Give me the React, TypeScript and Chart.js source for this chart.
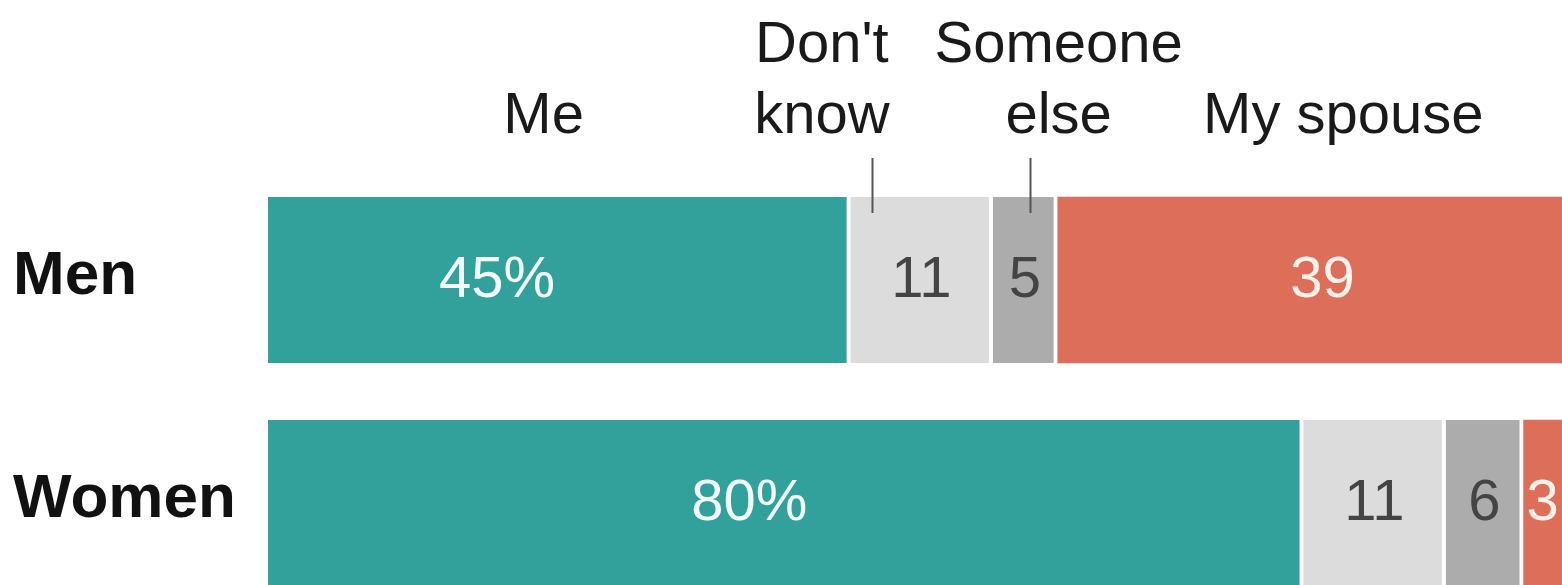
import React, { useEffect, useRef } from "react";
import { Chart, registerables } from "chart.js";

Chart.register(...registerables);

const categories = ["Men", "Women"];
const seriesNames = ["Me", "Don't know", "Someone else", "My spouse"];
const headerLines = [["Me"], ["Don't", "know"], ["Someone", "else"], ["My spouse"]];
const meValues = [45, 80];
const dontKnowValues = [11, 11];
const someoneElseValues = [5, 6];
const spouseValues = [39, 3];
const seriesColors = ["#33a19b", "#dcdcdc", "#acacac", "#dd6e59"];
const labelColors = ["#f4fcfb", "#444444", "#444444", "#fdf1ea"];
// label anchor positions (in percentage units)
const menLabelPos = [17.7, 50.5, 58.5, 81.5];
const womenLabelPos = [37.2, 85.5, 94, 98.5];
// header anchor positions (percentage units) and leader ticks
const headerPos = [21.3, 42.8, 61.1, 83.1];
const leaderTickPos = [46.7, 58.9];

const FONT = "'Liberation Sans', Arial, Helvetica, sans-serif";

export default function App() {
  const ref = useRef<HTMLCanvasElement | null>(null);

  useEffect(() => {
    document.body.style.margin = "0";
    document.body.style.overflow = "hidden";
    const canvas = ref.current;
    if (!canvas) return;
    const seriesValues = [meValues, dontKnowValues, someoneElseValues, spouseValues];
    const labelPos = [menLabelPos, womenLabelPos];

    const overlay = {
      id: "overlay",
      afterDatasetsDraw(chart: any) {
        const ctx = chart.ctx;
        const xs = chart.scales.x;
        ctx.save();
        // value labels
        ctx.font = `58px ${FONT}`;
        ctx.textAlign = "center";
        ctx.textBaseline = "alphabetic";
        seriesValues.forEach((vals, i) => {
          const meta = chart.getDatasetMeta(i);
          vals.forEach((v, j) => {
            const bar = meta.data[j] as any;
            const x = xs.getPixelForValue(labelPos[j][i]);
            ctx.fillStyle = labelColors[i];
            ctx.fillText(i === 0 ? `${v}%` : `${v}`, x, bar.y + 17);
          });
        });
        // category labels
        ctx.font = `bold 62px ${FONT}`;
        ctx.textAlign = "left";
        ctx.fillStyle = "#111111";
        const meta0 = chart.getDatasetMeta(0);
        categories.forEach((c, j) => {
          const bar = meta0.data[j] as any;
          ctx.fillText(c, 13, bar.y + 14);
        });
        // headers
        ctx.font = `58px ${FONT}`;
        ctx.textAlign = "center";
        ctx.fillStyle = "#1a1a1a";
        headerLines.forEach((lines, i) => {
          const x = xs.getPixelForValue(headerPos[i]);
          const lastBaseline = 133;
          lines.forEach((ln, k) => {
            const y = lastBaseline - (lines.length - 1 - k) * 71;
            ctx.fillText(ln, x, y);
          });
        });
        // leader ticks
        ctx.strokeStyle = "#555555";
        ctx.lineWidth = 2;
        leaderTickPos.forEach((p) => {
          const x = Math.round(xs.getPixelForValue(p)) + 0.5;
          ctx.beginPath();
          ctx.moveTo(x, 158);
          ctx.lineTo(x, 213);
          ctx.stroke();
        });
        ctx.restore();
      },
    };

    const chart = new Chart(canvas, {
      type: "bar",
      data: {
        labels: categories,
        datasets: seriesValues.map((vals, i) => ({
          label: seriesNames[i],
          data: vals,
          backgroundColor: seriesColors[i],
          borderColor: "#ffffff",
          borderWidth: { top: 0, bottom: 0, left: 0, right: i === seriesValues.length - 1 ? 0 : 4 },
          borderSkipped: "start",
          barThickness: 166,
        })),
      },
      options: {
        indexAxis: "y",
        responsive: false,
        animation: false,
        devicePixelRatio: 1,
        layout: { padding: { left: 268, right: 0, top: 168.5, bottom: 25.5 } },
        plugins: { legend: { display: false }, tooltip: { enabled: false } },
        scales: {
          x: { stacked: true, min: 0, max: 100, display: false },
          y: { stacked: true, display: false },
        },
      },
      plugins: [overlay],
    } as any);
    return () => chart.destroy();
  }, []);

  return (
    <div style={{ position: "absolute", left: 0, top: 0, width: 1562, height: 640, overflow: "hidden" }}>
      <canvas ref={ref} width={1562} height={640} style={{ width: 1562, height: 640, display: "block" }} />
    </div>
  );
}
